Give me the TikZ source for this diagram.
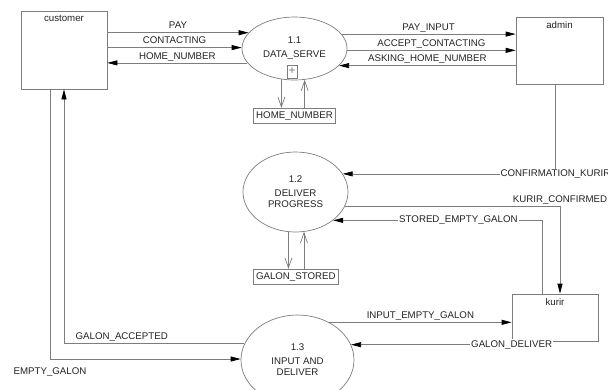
\documentclass[tikz,border=0pt]{standalone}
\usepackage{fontspec}
\setmainfont{Liberation Sans}
\usetikzlibrary{positioning, shapes, arrows.meta}
\definecolor{flowgray}{RGB}{125,125,125}
\definecolor{textgray}{RGB}{35,35,35}

\begin{document}
\begin{tikzpicture}[x=1pt, y=1pt,
      -{Triangle[length=10pt,width=5pt,color=black]},
      draw=flowgray, line width=0.7pt,
      font=\fontsize{9.7}{11}\selectfont, text=textgray,
      entity/.style={rectangle, draw, minimum width=86pt, inner sep=0pt},
      process/.style={ellipse, draw, inner sep=0pt, align=center},
      store/.style={rectangle, draw, inner xsep=3pt, inner ysep=0pt, minimum height=15pt},
      lbl/.style={inner sep=1.5pt, text depth=2pt},
      onlbl/.style={fill=white, inner sep=1pt},
      storeflow/.style={-{Straight Barb[length=10pt,width=7pt]}}]
      \useasboundingbox (0,0) rectangle (608,-389);
      % customer, 1.1, admin;
      \node[entity, minimum height=78pt,
        label={[anchor=north, inner sep=4pt]north:customer}] (customer) at (64,-50) {};
      \node[process, minimum width=105pt, minimum height=63pt] (data_serve) at (294.5,-48.5) {1.1\\[3pt]DATA\_SERVE};
      \node[rectangle, draw, minimum width=10.5pt, minimum height=13pt, inner sep=0pt,
        text=flowgray, font=\fontsize{12}{12}\selectfont] (plus) at (292.2,-71.5) {+};
      \node[entity, minimum width=87pt, minimum height=67pt,
        label={[anchor=north, inner sep=4pt]north:admin}] (admin) at (559.5,-50.5) {};
      % stores
      \node[store] (home_number) at (294.5,-115.8) {HOME\_NUMBER};
      \node[store] (galon_stored) at (295.8,-276.7) {GALON\_STORED};
      % 1.2, 1.3, kurir;
      \node[process, minimum width=105pt, minimum height=80pt] (deliver) at (295.5,-192) {1.2\\[3pt]DELIVER\\PROGRESS};
      \node[process, minimum width=113pt, minimum height=90pt] (input) at (297.5,-360) {1.3\\[3pt]INPUT AND\\DELIVER};
      \node[entity, minimum height=47pt,
        label={[anchor=north, inner sep=4pt]north:kurir}] (kurir) at (555,-317.5) {};

      \draw (customer.east |- data_serve.161) -- node[lbl, above] {PAY} (data_serve.161);
      \draw (customer.east |- data_serve.179) -- node[lbl, above] {CONTACTING} (data_serve.179);
      \draw (data_serve.197) -- node[lbl, above] {HOME\_NUMBER} (customer.east |- data_serve.197);
      \draw (data_serve.17) -- node[lbl, above] {PAY\_INPUT} (admin.west |- data_serve.17);
      \draw (data_serve.358) -- node[lbl, above] {ACCEPT\_CONTACTING} (admin.west |- data_serve.358);
      \draw (admin.west |- data_serve.339) -- node[lbl, above] {ASKING\_HOME\_NUMBER} (data_serve.339);

      \draw[storeflow] (data_serve.247) -- (data_serve.247 |- home_number.north);
      \draw[storeflow] (data_serve.288 |- home_number.north) -- (data_serve.288);
      \draw[storeflow] (deliver.260) -- (deliver.260 |- galon_stored.north);
      \draw[storeflow] (deliver.282 |- galon_stored.north) -- (deliver.282);

      \draw ([xshift=-4pt]admin.south) |- node[pos=0.5, onlbl] {CONFIRMATION\_KURIR} (deliver.21);
      \draw (deliver.344) -| node[pos=0.5, lbl, above] {KURIR\_CONFIRMED} ([xshift=5pt]kurir.north);
      \draw ([xshift=-13pt]kurir.north) |- node[pos=0.7, onlbl] {STORED\_EMPTY\_GALON} (deliver.323);

      \draw (input.50) -- node[lbl, above] {INPUT\_EMPTY\_GALON} (kurir.west |- input.50);
      \draw (kurir.south west) |- node[pos=0.5, onlbl] {GALON\_DELIVER} (input.16);
      \draw (input.163) -| node[pos=0.34, lbl, above] {GALON\_ACCEPTED} (customer.south);
      \draw ([xshift=-14pt]customer.south) |- node[pos=0.5, lbl, below=6.5pt] {EMPTY\_GALON} (input.179);
  \end{tikzpicture}
\end{document}
